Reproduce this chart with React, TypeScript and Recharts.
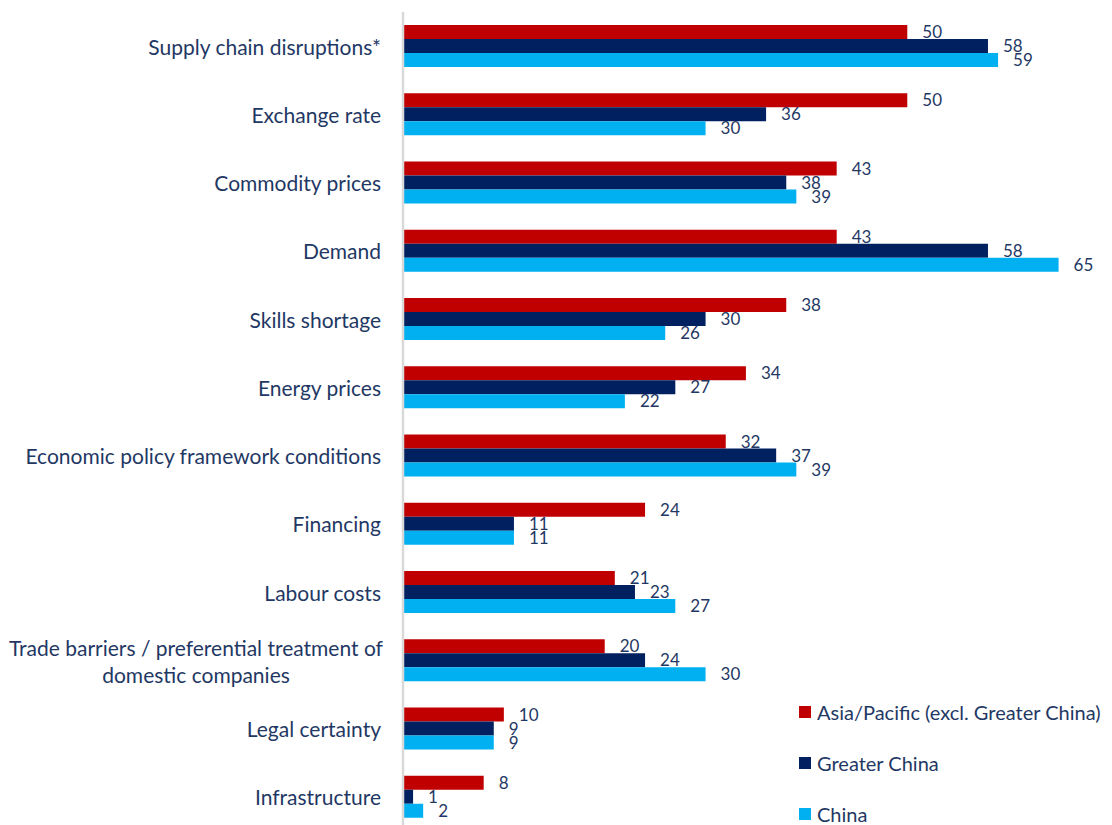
import { BarChart, Bar, XAxis, YAxis, LabelList } from 'recharts';

const categories = [
  'Supply chain disruptions*',
  'Exchange rate',
  'Commodity prices',
  'Demand',
  'Skills shortage',
  'Energy prices',
  'Economic policy framework conditions',
  'Financing',
  'Labour costs',
  'Trade barriers / preferential treatment of domestic companies',
  'Legal certainty',
  'Infrastructure',
];

const asiaPacific = [50, 50, 43, 43, 38, 34, 32, 24, 21, 20, 10, 8];
const greaterChina = [58, 36, 38, 58, 30, 27, 37, 11, 23, 24, 9, 1];
const china = [59, 30, 39, 65, 26, 22, 39, 11, 27, 30, 9, 2];

const seriesNames = ['Asia/Pacific (excl. Greater China)', 'Greater China', 'China'];
const colors = ['#C00000', '#002060', '#00B0F0'];
const textColor = '#1F3864';
const font = 'Lato, "Open Sans", sans-serif';

// long label gets split in two lines like the original
const wrapped: Record<string, string[]> = {
  'Trade barriers / preferential treatment of domestic companies': [
    'Trade barriers / preferential treatment of',
    'domestic companies',
  ],
};

const data = categories.map((name, i) => ({
  name,
  asia: asiaPacific[i],
  greater: greaterChina[i],
  china: china[i],
}));

function CategoryTick(props: any) {
  const { y, payload } = props;
  const lines = wrapped[payload.value] || [payload.value];
  const lineH = 27;
  const startY = y - ((lines.length - 1) * lineH) / 2;
  if (lines.length > 1) {
    return (
      <text textAnchor="middle" fill={textColor} fontSize={21} fontFamily={font} dominantBaseline="central">
        {lines.map((l, i) => (
          <tspan key={i} x={196} y={startY + i * lineH}>{l}</tspan>
        ))}
      </text>
    );
  }
  return (
    <text x={381} y={y} textAnchor="end" fill={textColor} fontSize={21} fontFamily={font} dominantBaseline="central">
      {lines[0]}
    </text>
  );
}

export default function App() {
  return (
    <div style={{ position: 'absolute', left: 0, top: 0, width: 1112, height: 825, overflow: 'hidden', background: '#fff' }}>
      <BarChart
        width={1112}
        height={831}
        data={data}
        layout="vertical"
        margin={{ top: 12, right: 3, bottom: 0, left: 0 }}
        barGap={0}
        barCategoryGap={13}
      >
        <XAxis type="number" domain={[0, 70]} hide />
        <YAxis
          type="category"
          dataKey="name"
          width={403}
          axisLine={{ stroke: '#D9D9D9', strokeWidth: 2.5 }}
          tickLine={false}
          tick={<CategoryTick />}
          interval={0}
        />
        {[
          { key: 'asia', i: 0 },
          { key: 'greater', i: 1 },
          { key: 'china', i: 2 },
        ].map(({ key, i }) => (
          <Bar key={key} dataKey={key} name={seriesNames[i]} fill={colors[i]} barSize={14} isAnimationActive={false}>
            <LabelList dataKey={key} position="right" offset={15} fill={textColor} fontSize={17} fontFamily={font} />
          </Bar>
        ))}
      </BarChart>
      <div style={{ position: 'absolute', left: 799, top: 686, fontFamily: font, color: textColor, fontSize: 20 }}>
        {seriesNames.map((n, i) => (
          <div key={n} style={{ display: 'flex', alignItems: 'center', height: 51, whiteSpace: 'nowrap' }}>
            <span style={{ width: 12, height: 12, background: colors[i], marginRight: 6, display: 'inline-block' }} />
            {n}
          </div>
        ))}
      </div>
    </div>
  );
}
